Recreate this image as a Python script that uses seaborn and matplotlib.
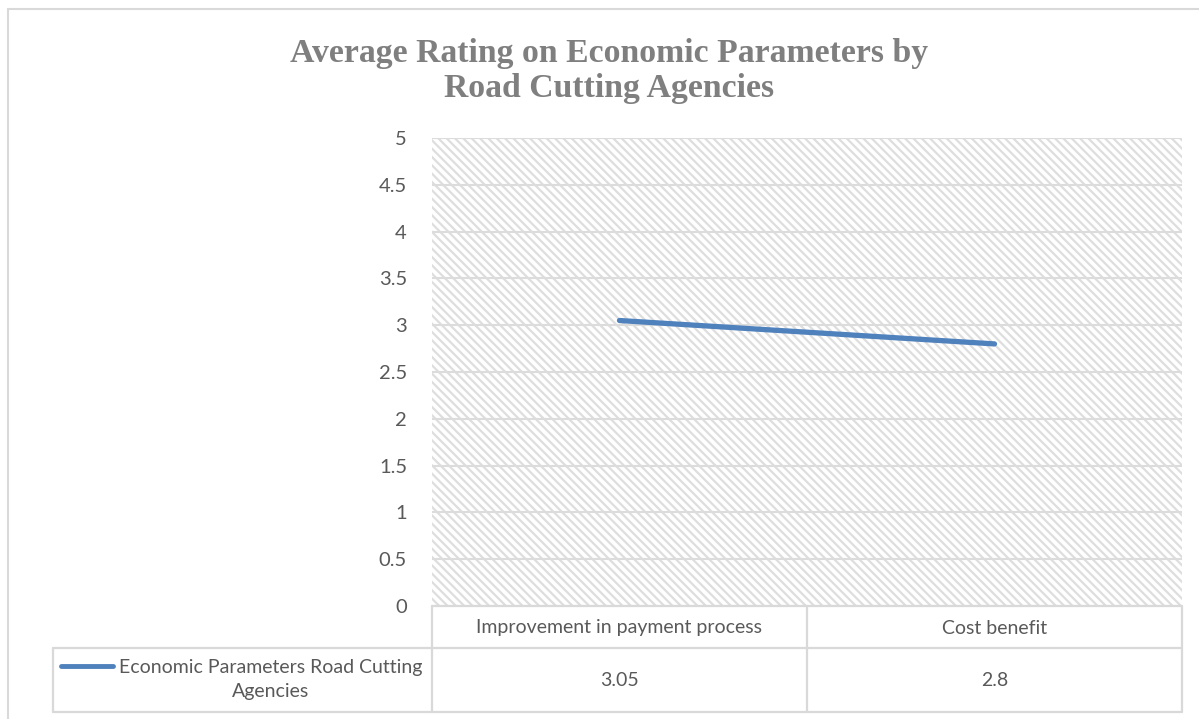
import matplotlib
matplotlib.use("Agg")
import matplotlib.pyplot as plt
from matplotlib.patches import Rectangle
from matplotlib.lines import Line2D
import pandas as pd
import seaborn as sns

# chart data
categories = ["Improvement in payment process", "Cost benefit"]
values = [3.05, 2.8]
series_name = "Economic Parameters Road Cutting Agencies"
y_ticks = [0, 0.5, 1, 1.5, 2, 2.5, 3, 3.5, 4, 4.5, 5]
y_tick_labels = ["0", "0.5", "1", "1.5", "2", "2.5", "3", "3.5", "4", "4.5", "5"]
title = "Average Rating on Economic Parameters by\nRoad Cutting Agencies"

sns.set_style("white")
plt.rcParams["font.family"] = ["Lato", "DejaVu Sans"]
plt.rcParams["hatch.color"] = "#dedede"
plt.rcParams["hatch.linewidth"] = 1.6

df = pd.DataFrame({"category": categories, "value": values})

W, H = 1199, 719
fig = plt.figure(figsize=(W / 100, H / 100), dpi=100)
fig.patch.set_facecolor("white")

def fx(px):
    return px / W

def fy(py):
    return 1 - py / H

# outer chart frame (cropped on right and bottom)
fig.add_artist(Line2D([fx(8), fx(8)], [fy(9), fy(725)], color="#d9d9d9", lw=1.5))
fig.add_artist(Line2D([fx(8), fx(1205)], [fy(9), fy(9)], color="#d9d9d9", lw=1.5))

left, right, top, bottom = 432, 1182, 138, 606
ax = fig.add_axes([fx(left), fy(bottom), fx(right - left), fy(top) - fy(bottom)])
ax.set_facecolor("white")

# hatched plot area
ax.add_patch(Rectangle((0, 0), 1, 1, transform=ax.transAxes, facecolor="white",
                       edgecolor="#dedede", lw=0, hatch="\\\\\\\\", zorder=0))

sns.lineplot(data=df, x="category", y="value", ax=ax, color="#4f81bd", lw=3.8,
             solid_capstyle="round", zorder=3, sort=False)

ax.set_xlim(-0.5, 1.5)
ax.set_ylim(0, 5)
ax.set_yticks(y_ticks)
ax.set_yticklabels(y_tick_labels)
ax.set_xticks([])
ax.set_xlabel("")
ax.set_ylabel("")
ax.tick_params(axis="y", length=0, pad=18, labelsize=14.5, labelcolor="#595959")
for s in ax.spines.values():
    s.set_visible(False)
for t in y_ticks:
    ax.axhline(t, color="#dcdcdc", lw=1.5, zorder=1)

# data table below the plot
gc = "#d9d9d9"
ah = bottom - top
aw = right - left

def axx(px):
    return (px - left) / aw

def axy(py):
    return (bottom - py) / ah

def tline(xs, ys):
    ax.add_line(Line2D([axx(x) for x in xs], [axy(y) for y in ys], transform=ax.transAxes,
                       color=gc, lw=1.6, clip_on=False))

tline([left, right], [606, 606])
tline([53, right], [648, 648])
tline([53, right], [712, 712])
tline([53, 53], [648, 712])
for xb in [left, 807, right]:
    tline([xb, xb], [606, 712])

tc = "#595959"
col_centers = [(left + 807) / 2, (807 + right) / 2]
for cx, cat, v in zip(col_centers, categories, values):
    ax.text(axx(cx), axy(628), cat, transform=ax.transAxes, ha="center", va="center",
            fontsize=14, color=tc)
    ax.text(axx(cx), axy(681), f"{v:g}", transform=ax.transAxes, ha="center", va="center",
            fontsize=14, color=tc)

# legend key in the table
ax.add_line(Line2D([axx(61), axx(113)], [axy(666), axy(666)], transform=ax.transAxes,
                   color="#4f81bd", lw=3.5, solid_capstyle="round", clip_on=False))
ax.text(axx(271), axy(679), "Economic Parameters Road Cutting\nAgencies",
        transform=ax.transAxes, ha="center", va="center", multialignment="center",
        fontsize=14, color=tc, linespacing=1.5)

fig.text(fx(609), fy(71), title, ha="center", va="center", fontsize=24.3,
         fontweight="bold", color="#7f7f7f", family=["Liberation Serif", "DejaVu Serif"],
         linespacing=1.15)

fig.savefig("out.png", dpi=100, facecolor="white")
